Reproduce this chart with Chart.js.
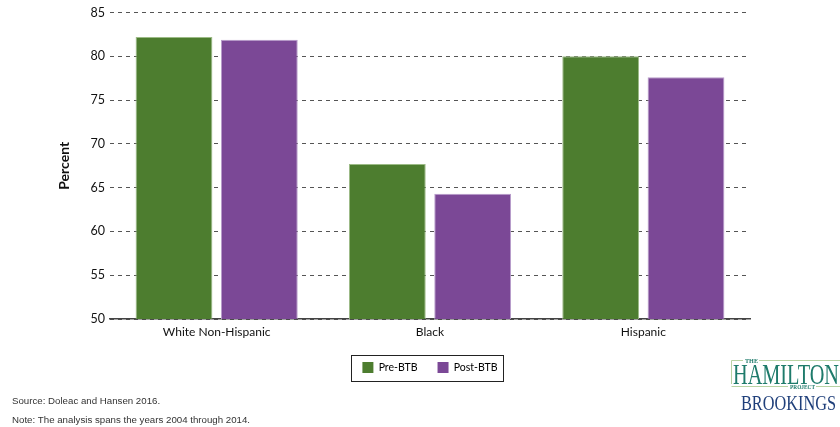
<!DOCTYPE html>
<html>
<head>
<meta charset="utf-8">
<script src="https://cdn.jsdelivr.net/npm/chart.js@4/dist/chart.umd.min.js"></script>
<style>
  html, body { margin: 0; padding: 0; background: #fff; }
  #wrap { width: 840px; height: 427px; position: relative; }
</style>
</head>
<body>
<div id="wrap"><canvas id="c" width="840" height="427"></canvas></div>
<script>
const categories = ['White Non-Hispanic', 'Black', 'Hispanic'];
const preBTB = [82.2, 67.7, 80.0];
const postBTB = [81.9, 64.3, 77.6];
const seriesNames = ['Pre-BTB', 'Post-BTB'];
const yTicks = [50, 55, 60, 65, 70, 75, 80, 85];
const sourceText = 'Source: Doleac and Hansen 2016.';
const noteText = 'Note: The analysis spans the years 2004 through 2014.';

const GREEN = '#4d7d2f';
const PURPLE = '#7b4896';

const extras = {
  id: 'extras',
  afterDraw(chart) {
    const ctx = chart.ctx;
    // legend border
    const lg = chart.legend;
    if (lg && lg.legendHitBoxes && lg.legendHitBoxes.length) {
      let l = Infinity, r = -Infinity, t = Infinity, b = -Infinity;
      lg.legendHitBoxes.forEach(h => {
        l = Math.min(l, h.left); r = Math.max(r, h.left + h.width);
        t = Math.min(t, h.top); b = Math.max(b, h.top + h.height);
      });
      const cy = (t + b) / 2;
      ctx.save();
      ctx.strokeStyle = '#222';
      ctx.lineWidth = 1;
      ctx.strokeRect(Math.round(l - 11) + 0.5, Math.round(cy - 13) + 0.5, Math.round(r - l + 17), 26);
      ctx.restore();
    }
    // footnotes
    ctx.save();
    ctx.fillStyle = '#333';
    ctx.font = '9.7px "Liberation Sans", Arial, sans-serif';
    ctx.textBaseline = 'middle';
    ctx.textAlign = 'left';
    ctx.fillText(sourceText, 12, 401);
    ctx.fillText(noteText, 12, 420);
    ctx.restore();
    // logo
    ctx.save();
    const drawFit = (txt, x, y, w, font, color) => {
      ctx.font = font;
      ctx.fillStyle = color;
      const m = ctx.measureText(txt).width;
      ctx.save();
      ctx.translate(x, y);
      ctx.scale(w / m, 1);
      ctx.textAlign = 'left';
      ctx.textBaseline = 'alphabetic';
      ctx.fillText(txt, 0, 0);
      ctx.restore();
    };
    ctx.strokeStyle = '#b9d3a4';
    ctx.lineWidth = 1;
    ctx.beginPath();
    ctx.moveTo(731.5, 384); ctx.lineTo(731.5, 360.5); ctx.lineTo(743, 360.5);
    ctx.moveTo(759, 360.5); ctx.lineTo(840, 360.5);
    ctx.moveTo(731.5, 386.5); ctx.lineTo(788, 386.5);
    ctx.moveTo(816, 386.5); ctx.lineTo(840, 386.5);
    ctx.stroke();
    drawFit('THE', 745, 363, 13, 'bold 7px "Liberation Serif", serif', '#1e7b6b');
    drawFit('HAMILTON', 733, 384, 106, '29px "Liberation Serif", serif', '#1e7b6b');
    drawFit('PROJECT', 790, 389, 25, 'bold 6px "Liberation Serif", serif', '#1e7b6b');
    drawFit('BROOKINGS', 741, 410, 95, '20px "Liberation Serif", serif', '#1f3f7a');
    ctx.restore();
  }
};

new Chart(document.getElementById('c'), {
  type: 'bar',
  data: {
    labels: categories,
    datasets: [
      { label: seriesNames[0], data: preBTB, backgroundColor: GREEN, borderColor: '#9cbb86', borderWidth: 1 },
      { label: seriesNames[1], data: postBTB, backgroundColor: PURPLE, borderColor: '#b89ccb', borderWidth: 1 }
    ]
  },
  options: {
    responsive: false,
    animation: false,
    devicePixelRatio: 1,
    layout: { padding: { left: 0, right: 90, top: 10, bottom: 44 } },
    datasets: { bar: { categoryPercentage: 0.8, barPercentage: 0.9 } },
    plugins: {
      legend: {
        position: 'bottom',
        fullSize: false,
        labels: {
          boxWidth: 11, boxHeight: 11, padding: 20,
          color: '#111',
          font: { family: 'Lato, "Liberation Sans", sans-serif', size: 10.5 },
          generateLabels(chart) {
            return chart.data.datasets.map((d, i) => ({
              text: d.label, fillStyle: d.backgroundColor, strokeStyle: d.backgroundColor,
              lineWidth: 0, datasetIndex: i, hidden: false
            }));
          }
        }
      },
      tooltip: { enabled: false }
    },
    scales: {
      x: {
        grid: { display: false, drawTicks: false },
        border: { display: true, color: '#444', width: 1.5 },
        ticks: { color: '#111', padding: 6, font: { family: 'Lato, "Liberation Sans", sans-serif', size: 12 } },
        afterFit(s) { s.height = 23; }
      },
      y: {
        min: 50, max: 85,
        afterBuildTicks(s) { s.ticks = yTicks.map(v => ({ value: v })); },
        grid: { color: '#555', lineWidth: 1, drawTicks: false },
        border: { display: false, dash: [4, 4] },
        ticks: { color: '#111', padding: 5, font: { family: 'Lato, "Liberation Sans", sans-serif', size: 12.5 } },
        title: { display: true, text: 'Percent', color: '#111', padding: { top: 56, bottom: 0 },
                 font: { family: 'Lato, "Liberation Sans", sans-serif', size: 14, weight: 'bold' } },
        afterFit(s) { s.width = 110; }
      }
    }
  },
  plugins: [extras]
});
</script>
</body>
</html>
